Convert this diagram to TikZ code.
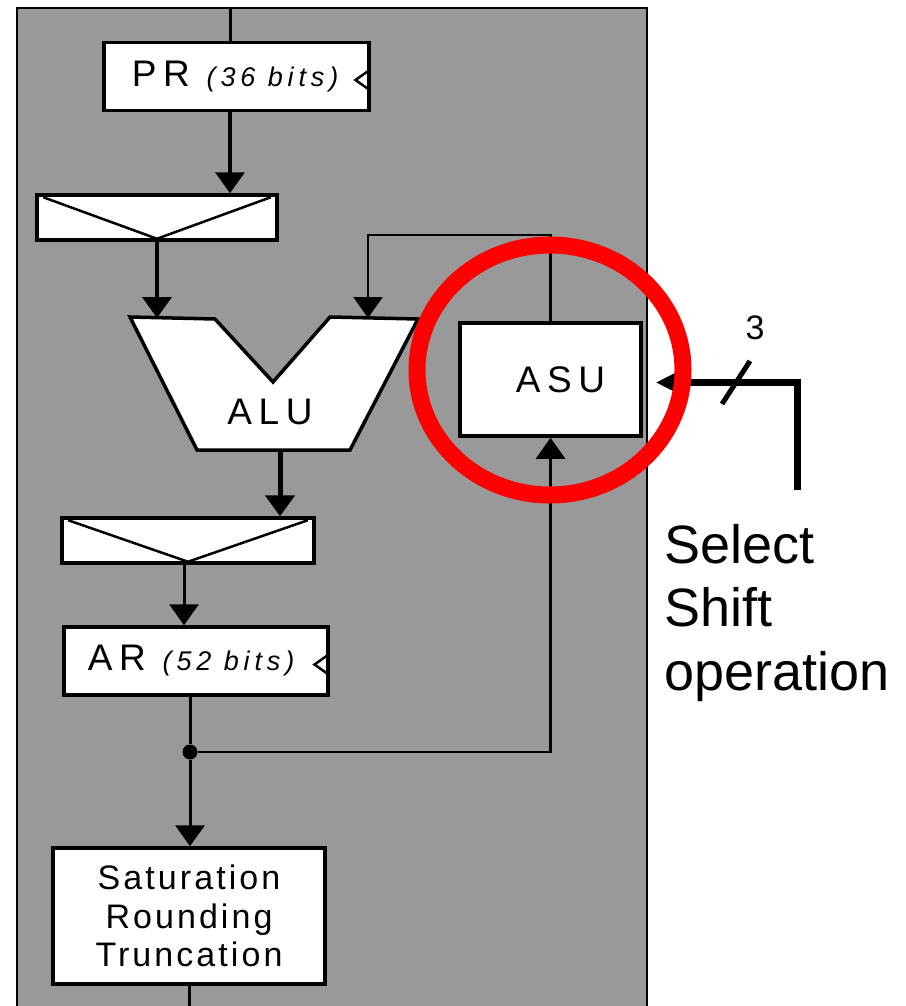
\documentclass[tikz,border=0pt]{standalone}
\usepackage{fontspec}
\setmainfont{Liberation Sans}
\usetikzlibrary{arrows.meta,calc}
\definecolor{panelgray}{RGB}{153,153,153}
\definecolor{ringred}{RGB}{255,0,0}
\newcommand{\unitfont}{\fontsize{37}{44}\selectfont\addfontfeatures{LetterSpace=18}}
\newcommand{\bitsfont}{\fontsize{27}{32}\selectfont\itshape\addfontfeatures{LetterSpace=18}}
\newcommand{\stagefont}{\fontsize{34}{38.5}\selectfont\addfontfeatures{LetterSpace=9}}
\newcommand{\notefont}{\fontsize{54}{63.5}\selectfont}

\begin{document}
\begin{tikzpicture}[
    x=1pt, y=-1pt,
    every node/.style={font=\unitfont},
    box/.style={draw=black, fill=white, line width=3.5pt},
    reg/.style={box, anchor=west, inner xsep=#1, inner ysep=0pt, minimum height=68pt},
    mux/.style={box, inner sep=0pt, minimum height=45pt},
    flow/.style={-{Triangle[length=21pt,width=29pt]}, line width=3pt},
    fine/.style={line width=2.5pt},
    bus/.style={line width=7pt},
]
\useasboundingbox (0,0) rectangle (905,1006);

% Panel
\fill[panelgray] (17,8) rectangle (647,1012);
\draw[line width=2pt] (17,1012) -- (17,8) -- (647,8) -- (647,1012);

% Registers and muxes
\coordinate (feed) at (230,8);
\node[reg=28pt] (pr) at (102,76.5) {\makebox[209pt][l]{PR {\bitsfont(36 bits)}}};
\node[mux, minimum width=240pt] (m1) at (157,217.5) {};
\node[mux, minimum width=252pt] (m2) at (188,540.5) {};
\node[reg=24pt] (ar) at (62,661) {\makebox[216pt][l]{AR {\bitsfont(52 bits)}}};
\foreach \m in {m1,m2}
  \draw[fine] ([shift={(8pt,-4pt)}]\m.north west) -- ([yshift=3pt]\m.south) -- ([shift={(-8pt,-4pt)}]\m.north east);
\foreach \r in {pr,ar}
  \draw[fine] ([shift={(-3pt,5pt)}]\r.east) -- ([shift={(-15pt,-3.5pt)}]\r.east) -- ([shift={(-3pt,-12pt)}]\r.east);

% ALU
\draw[box] (130,317) -- (215,319) -- (273,382) -- (330,317) -- (418,319) -- (350,450) -- (197,450) -- cycle;
\node (alu) at (270,412) {ALU};
\coordinate (aluA) at (157,318);
\coordinate (aluB) at (368,318);
\coordinate (aluOut) at (280,450);
\coordinate (turn) at (368,235);

% ASU
\node[box, minimum width=181pt, minimum height=113pt, inner sep=0pt] (asu) at (550.5,379.5) {\hspace*{20pt}ASU};

% Output stage
\node[circle, fill=black, inner sep=0pt, minimum size=15pt] (tap) at (190,752) {};
\node[box, minimum width=272pt, minimum height=136pt, align=center, font=\stagefont] (sat) at (189,916) {Saturation\\Rounding\\Truncation};
\coordinate (out) at (189,1012);

% Connectors
\draw[line width=3pt] (feed) -- (feed |- pr.north);
\draw[flow, line width=3.5pt] (feed |- pr.south) -- (feed |- m1.north);
\draw[flow, line width=3.5pt] (m1.south) -- (aluA);
\draw[flow, fine] (asu.north) |- (turn) -- (aluB);
\draw[flow, line width=5pt] (aluOut) -- (aluOut |- m2.north);
\draw[flow] ([xshift=-4pt]m2.south) -- ([xshift=-4pt]m2.south |- ar.north);
\draw[line width=3pt] (tap |- ar.south) -- (tap);
\draw[flow, fine] (tap) -| (asu.south);
\draw[flow] (tap) -- (tap |- sat.north);
\draw[line width=3pt] (sat.south) -- (out);

% Shift select
\coordinate (sel) at (797,490);
\draw[bus, -{Triangle[length=23pt,width=21pt]}, shorten >=13pt] (sel) |- ([yshift=-3pt]asu.east);
\draw[line width=5pt] (722,404) -- (750,361);
\node[font=\fontsize{34}{40}\selectfont] (width) at (755,328) {3};
\node[font=\notefont, align=left, anchor=north west, inner sep=0pt] (note) at (664,524) {Select\\Shift\\operation};

% Highlight
\draw[ringred, line width=17pt] (550,370) ellipse [x radius=133pt, y radius=125pt];

\end{tikzpicture}
\end{document}
